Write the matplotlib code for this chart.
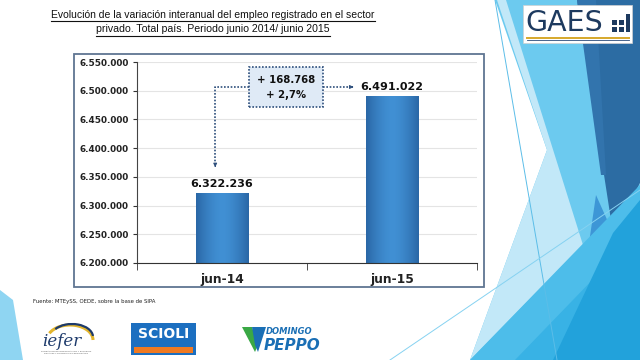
import matplotlib
matplotlib.use('Agg')
import matplotlib.pyplot as plt
import numpy as np
from matplotlib.patches import Polygon, Rectangle, Arc
from matplotlib.lines import Line2D
from matplotlib.colors import to_rgb

# datos
categories = ['jun-14', 'jun-15']
values = [6322236, 6491022]
y_ticks = [6200000, 6250000, 6300000, 6350000, 6400000, 6450000, 6500000, 6550000]
diff_label = '+ 168.768'
pct_label = '+ 2,7%'
title_lines = ['Evolución de la variación interanual del empleo registrado en el sector',
               'privado. Total país. Periodo junio 2014/ junio 2015']
source_text = 'Fuente: MTEySS, OEDE, sobre la base de SIPA'

W, H = 640, 360
fig = plt.figure(figsize=(6.4, 3.6), dpi=100)
fig.patch.set_facecolor('white')


def fx(x):
    return x / W


def fy(y):
    return 1 - y / H


def poly(pts, color, z=-5):
    fig.add_artist(Polygon([(fx(x), fy(y)) for x, y in pts], closed=True,
                           transform=fig.transFigure, facecolor=color,
                           edgecolor='none', zorder=z))


def rect(x0, y0, x1, y1, fc, ec='none', lw=0, z=-1, ls='-'):
    fig.add_artist(Rectangle((fx(x0), fy(y1)), fx(x1) - fx(x0), fy(y0) - fy(y1),
                             transform=fig.transFigure, facecolor=fc, edgecolor=ec,
                             lw=lw, zorder=z, ls=ls))


def fline(pts, color, lw, z=-4):
    fig.add_artist(Line2D([fx(p[0]) for p in pts], [fy(p[1]) for p in pts],
                          transform=fig.transFigure, color=color, lw=lw, zorder=z))


# fondo decorativo (diapositiva)
poly([(495, 0), (577, 0), (640, 185), (640, 360), (470, 360), (547, 150)], '#6ccaef')
poly([(497, 0), (506, 0), (583, 245), (470, 360), (547, 150)], '#c2e8f8')
poly([(577, 0), (640, 0), (640, 183), (613, 233)], '#2c6ca3')
poly([(577, 0), (596, 0), (606, 175), (601, 175)], '#3274ad')
poly([(596, 195), (613, 233), (588, 250)], '#3d96d6')
poly([(470, 360), (640, 185), (640, 360)], '#4dbdea')
poly([(515, 360), (600, 272), (640, 360)], '#38b2e5')
poly([(553, 360), (613, 233), (640, 200), (640, 360)], '#22a2db')
poly([(0, 290), (13, 300), (23, 360), (0, 360)], '#8fd5f2')
fline([(495, 0), (557, 360)], '#5bbde8', 0.7)
fline([(390, 360), (640, 190)], '#86d2f1', 0.7)

# marco del gráfico
rect(74, 54, 484, 287, 'white', '#5f7592', 1.3, z=-1)

# título (ajustado al ancho del original)
tx = 213
title_widths = [325, 234]
title_objs = []
for i, line in enumerate(title_lines):
    t = fig.text(fx(tx), fy(15 + i * 14.5), line, ha='center', va='center',
                 fontsize=9, color='#111111', family='Liberation Sans')
    title_objs.append((t, 21 + i * 14.5, title_widths[i]))

fig.canvas.draw()
r = fig.canvas.get_renderer()
for tobj, yline, wt in title_objs:
    w0 = tobj.get_window_extent(r).width
    tobj.set_fontsize(9 * wt / w0)

# eje
ax = fig.add_axes([fx(137), fy(263), (477 - 137) / W, (263 - 62) / H])
ax.set_facecolor('none')
x = np.arange(len(categories))
bars = ax.bar(x, values, width=0.31, color='none', edgecolor='none', zorder=2)

edge = np.array(to_rgb('#2a67a6'))
center = np.array(to_rgb('#4190d4'))
t = np.linspace(-1, 1, 80)
w = np.abs(t) ** 1.6
grad = (center[None, :] * (1 - w[:, None]) + edge[None, :] * w[:, None])[None, :, :]
for b in bars:
    x0, y0 = b.get_x(), 6200000
    im = ax.imshow(grad, extent=[x0, x0 + b.get_width(), y0, b.get_height()],
                   aspect='auto', zorder=2, interpolation='bilinear')
    im.set_clip_path(b)

ax.set_xlim(-0.5, 1.5)
ax.set_ylim(6200000, 6550000)
ax.set_yticks(y_ticks)
ax.set_yticklabels([f'{v:,.0f}'.replace(',', '.') for v in y_ticks],
                   fontsize=6.4, fontweight='bold', color='#222222')
ax.set_xticks(x)
ax.set_xticklabels(categories, fontsize=8.8, fontweight='bold', color='#222222')
ax.set_xticks([-0.5, 0.5, 1.5], minor=True)
ax.tick_params(axis='x', which='major', length=0, pad=7)
ax.tick_params(axis='x', which='minor', length=5, color='#333333', direction='out')
ax.tick_params(axis='y', length=3, color='#333333', direction='out', pad=3)
ax.yaxis.grid(True, color='#e4e4e4', lw=0.8)
ax.set_axisbelow(True)
for s in ['top', 'right']:
    ax.spines[s].set_visible(False)
ax.spines['left'].set_color('#444444')
ax.spines['bottom'].set_color('#333333')

# etiquetas de valor
for xi, v in zip(x, values):
    ax.annotate(f'{v:,.0f}'.replace(',', '.'), (xi, v), xytext=(0, 2.5),
                textcoords='offset points', ha='center', va='bottom',
                fontsize=8, fontweight='bold', color='#111111', zorder=4)

# caja de variación y conectores punteados
dot = (0, (1, 1))
navy = '#2e4f7c'
y_conn = 6506500
bx0, bx1 = 0.16, 0.595
by0, by1 = 6472000, 6541500
ax.add_patch(Rectangle((bx0, by0), bx1 - bx0, by1 - by0, facecolor='#dfeaf6',
                       edgecolor=navy, lw=1.2, ls=dot, zorder=5, clip_on=False))
ax.text((bx0 + bx1) / 2, 6519000, diff_label, ha='center', va='center',
        fontsize=7.3, fontweight='bold', color='#111111', zorder=6)
ax.text((bx0 + bx1) / 2, 6492000, pct_label, ha='center', va='center',
        fontsize=7.3, fontweight='bold', color='#111111', zorder=6)
ax.plot([bx0, -0.04, -0.04], [y_conn, y_conn, 6372000], color=navy, lw=1.2,
        ls=dot, zorder=5)
ax.annotate('', xy=(-0.04, 6362000), xytext=(-0.04, 6374000),
            arrowprops=dict(arrowstyle='-|>', color=navy, lw=0.8,
                            mutation_scale=5), zorder=5)
ax.plot([bx1, 0.755], [y_conn, y_conn], color=navy, lw=1.2, ls=dot, zorder=5)
ax.annotate('', xy=(0.79, y_conn), xytext=(0.75, y_conn),
            arrowprops=dict(arrowstyle='-|>', color=navy, lw=0.8,
                            mutation_scale=5), zorder=5)

# fuente
fig.text(fx(33), fy(302), source_text, ha='left', va='center', fontsize=3.9,
         color='#222222')

# logo GAES
rect(523, 5, 632, 43, 'white', '#d0d0d0', 0.5, z=2)
fig.text(fx(525), fy(23), 'GAES', ha='left', va='center', fontsize=20.5,
         color='#1d3a5f', zorder=3)
for (a, b, c, d) in [(612, 20, 617, 25), (619, 20, 624, 25), (612, 27, 617, 32),
                     (619, 27, 624, 32), (626, 14, 630, 32)]:
    rect(a, b, c, d, '#1d3a5f', z=3)
fline([(527, 37.5), (629, 37.5)], '#d6a82b', 1.4, z=3)
fline([(527, 39.5), (629, 39.5)], '#2b4b7a', 0.6, z=3)

# logo iefer
fig.add_artist(Arc((fx(70), fy(340)), fx(46) - fx(0), (fy(0) - fy(30)), theta1=0,
                   theta2=150, transform=fig.transFigure, color='#e3b52c', lw=2.2))
fig.add_artist(Arc((fx(72), fy(337)), fx(42) - fx(0), (fy(0) - fy(26)), theta1=5,
                   theta2=140, transform=fig.transFigure, color='#1d3a6b', lw=1.6))
fig.text(fx(42), fy(342), 'iefer', ha='left', va='center', fontsize=12,
         style='italic', family='DejaVu Serif', color='#1d3a6b')
fig.text(fx(66), fy(352), 'FUNDACIÓN DE INVESTIGACIÓN Y ESTUDIOS\nFISCALES Y ECONÓMICOS REGIONALES',
         ha='center', va='center', fontsize=1.6, color='#555555', linespacing=1.0)

# logo SCIOLI
rect(131, 323, 196, 355, '#1c6fc0', z=2)
rect(134, 347, 193, 353, '#f07a22', z=3)
fig.text(fx(163.5), fy(334), 'SCIOLI', ha='center', va='center', fontsize=10,
         fontweight='bold', color='white', zorder=4)

# logo Domingo Peppo
poly([(242, 327), (252, 327), (258, 345), (255, 352)], '#3aa845', z=2)
poly([(252, 327), (266, 327), (258, 352), (255, 345)], '#1a6fb5', z=2)
fig.text(fx(266), fy(332), 'DOMINGO', ha='left', va='center', fontsize=6,
         fontweight='bold', style='italic', color='#1a6fb5')
fig.text(fx(264), fy(345), 'PEPPO', ha='left', va='center', fontsize=11,
         fontweight='bold', style='italic', color='#1a6fb5')

# subrayado del título
fig.canvas.draw()
r = fig.canvas.get_renderer()
for tobj, yline, wt in title_objs:
    bb = tobj.get_window_extent(r)
    fline([(bb.x0, yline), (bb.x1, yline)], '#111111', 0.8, z=3)

fig.savefig('out.png', dpi=100)
